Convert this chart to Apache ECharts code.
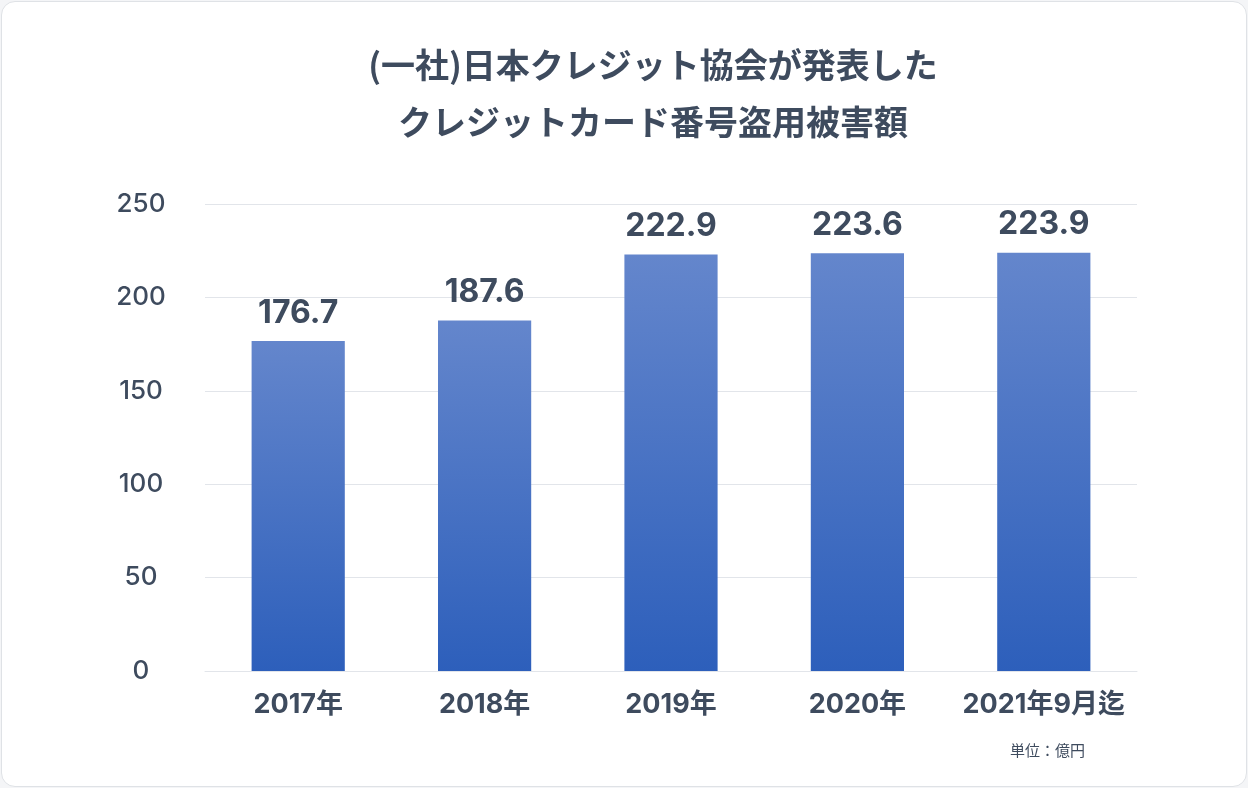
<!DOCTYPE html>
<html>
<head>
<meta charset="utf-8">
<script src="https://cdn.jsdelivr.net/npm/echarts@6/dist/echarts.min.js"></script>
<style>
  html, body { margin: 0; padding: 0; background: #f4f5f7; }
  #card {
    position: absolute; left: 1px; top: 1px; width: 1244px; height: 784px;
    background: #fff; border: 1px solid #dfe2e6; border-radius: 14px;
  }
  #chart { width: 1248px; height: 788px; position: absolute; left: 0; top: 0; }
</style>
</head>
<body>
<div id="card"></div>
<div id="chart"></div>
<script>
// 年別データ
var categories = ['2017年', '2018年', '2019年', '2020年', '2021年9月迄'];
var values = [176.7, 187.6, 222.9, 223.6, 223.9];
var yTicks = [0, 50, 100, 150, 200, 250];

var textColor = '#3e4b5e';
var font = 'Inter, "Noto Sans CJK JP", sans-serif';
var cjkFont = '"Noto Sans CJK JP", sans-serif';

var chart = echarts.init(document.getElementById('chart'));

chart.setOption({
    title: {
        text: '(一社)日本クレジット協会が発表した\nクレジットカード番号盗用被害額',
        left: 648,
        textAlign: 'center',
        top: 32,
        textStyle: {
            color: textColor,
            fontFamily: cjkFont,
            fontSize: 34,
            fontWeight: 'bold',
            lineHeight: 57
        }
    },
    graphic: [{
        type: 'text',
        left: 1010,
        top: 743,
        style: {
            text: '単位：億円',
            fill: textColor,
            font: '15px ' + cjkFont
        }
    }],
    grid: {
        left: 205,
        right: 111,
        top: 204,
        bottom: 117
    },
    xAxis: {
        type: 'category',
        data: categories,
        axisLine: { lineStyle: { color: '#e2e5ea' } },
        axisTick: { show: false },
        axisLabel: {
            interval: 0,
            color: textColor,
            fontFamily: font,
            fontSize: 27,
            fontWeight: 'bold',
            margin: 20
        }
    },
    yAxis: {
        type: 'value',
        min: yTicks[0],
        max: yTicks[yTicks.length - 1],
        interval: 50,
        axisLine: { show: false },
        axisTick: { show: false },
        splitLine: { lineStyle: { color: '#e2e5ea' } },
        axisLabel: {
            color: textColor,
            fontFamily: font,
            fontSize: 26,
            fontWeight: 500,
            margin: 64,
            align: 'center'
        }
    },
    series: [{
        type: 'bar',
        data: values,
        barWidth: '50%',
        itemStyle: {
            color: new echarts.graphic.LinearGradient(0, 0, 0, 1, [
                { offset: 0, color: '#6486cc' },
                { offset: 1, color: '#2d5fbb' }
            ])
        },
        label: {
            show: true,
            position: 'top',
            distance: 12,
            color: textColor,
            fontFamily: font,
            fontSize: 32,
            fontWeight: 'bold',
            formatter: function (p) { return p.value.toFixed(1); }
        }
    }]
});
</script>
</body>
</html>
